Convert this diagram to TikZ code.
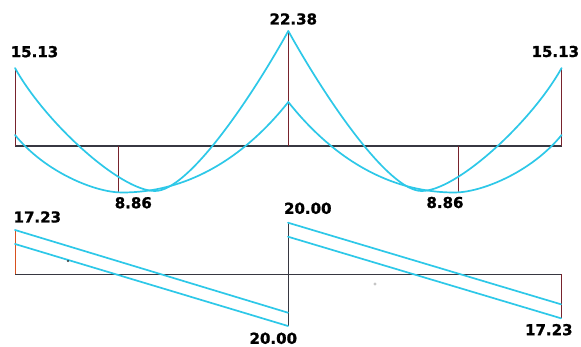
\documentclass[tikz,border=0pt]{standalone}
\usepackage{fontspec}
\setmainfont{DejaVu Sans}
\newfontfamily\valfont{DejaVu Sans}[BoldFeatures={FakeBold=1.2}]
\definecolor{curvecyan}{RGB}{45,200,232}
\definecolor{axisgray}{RGB}{55,55,65}
\definecolor{ordmaroon}{RGB}{120,35,45}
\definecolor{ordorange}{RGB}{215,80,30}
\begin{document}
\begin{tikzpicture}[x=1pt,y=-1pt,
  axisline/.style={draw=axisgray,line width=1.1pt},
  ordinate/.style={draw=ordmaroon,line width=1pt},
  diagcurve/.style={draw=curvecyan,line width=1.7pt,line join=round,line cap=round},
  val/.style={font=\valfont\bfseries\fontsize{15}{15}\selectfont,inner sep=0pt,text=black}]
\useasboundingbox (0,0) rectangle (581,347);
\fill[white] (0,0) rectangle (581,347);

% ---------- bending moment diagram ----------
\coordinate (mA) at (15,146);
\coordinate (mB) at (288.3,146);
\coordinate (mC) at (561.6,146);
\coordinate (mAtop) at (15,68);
\coordinate (mBtop) at (288.3,31);
\coordinate (mCtop) at (561.6,68);
\coordinate (mL) at (118,146);
\coordinate (mLbot) at (118,192);
\coordinate (mR) at (458.6,146);
\coordinate (mRbot) at (458.6,192);

\draw[axisline] (mA) -- (mC);
\draw[ordinate] (mA) -- (mAtop);
\draw[ordinate] (mB) -- (mBtop);
\draw[ordinate] (mC) -- (mCtop);
\draw[ordinate] (mL) -- (mLbot);
\draw[ordinate] (mR) -- (mRbot);

\foreach \sx/\sh in {1/0,-1/576.6}{
\begin{scope}[shift={(\sh,0)},xscale=\sx]
% outer curve (end 15.13, support 22.38)
\draw[diagcurve] (15,68) .. controls (45,122) and (120,191) .. (155,191)
  .. controls (188,191) and (250,100) .. (288.3,31);
% inner curve
\draw[diagcurve] (15,135) .. controls (45,172) and (95,192.5) .. (122,192.5)
  .. controls (200,192.5) and (255,144) .. (288.3,102);
\end{scope}}

\node[val] (t1) at (34.5,51.7) {15.13};
\node[val] (t2) at (293.3,19) {22.38};
\node[val] (t3) at (555.3,51.5) {15.13};
\node[val] (t4) at (133.3,202.8) {8.86};
\node[val] (t5) at (445,202.5) {8.86};

% ---------- shear force diagram ----------
\coordinate (sA) at (15,274.5);
\coordinate (sB) at (288,274.5);
\coordinate (sC) at (561,274.5);
\coordinate (sAu) at (15,230);
\coordinate (sAl) at (15,244);
\coordinate (sBu1) at (288,312.7);
\coordinate (sBl1) at (288,326);
\coordinate (sBu2) at (288,222.7);
\coordinate (sBl2) at (288,236.7);
\coordinate (sCu) at (561,304.3);
\coordinate (sCl) at (561,318.3);

\draw[axisline] (sA) -- (sC);
\draw[draw=ordorange,line width=1pt] (sA) -- (sAu);
\draw[draw=axisgray,line width=1pt] (sBl1) -- (sBu2);
\draw[ordinate] (sC) -- (sCl);

\draw[diagcurve] (sAu) -- (sBu1);
\draw[diagcurve] (sAl) -- (sBl1);
\draw[diagcurve] (sBu2) -- (sCu);
\draw[diagcurve] (sBl2) -- (sCl);

\node[val] (t6) at (37.3,217) {17.23};
\node[val] (t7) at (307.8,208.3) {20.00};
\node[val] (t8) at (273.3,338.3) {20.00};
\node[val] (t9) at (548.8,329.7) {17.23};

% scan specks
\fill[black!80] (68,261) circle (1.2);
\fill[gray!45] (375,284) circle (1.6);
\end{tikzpicture}
\end{document}
